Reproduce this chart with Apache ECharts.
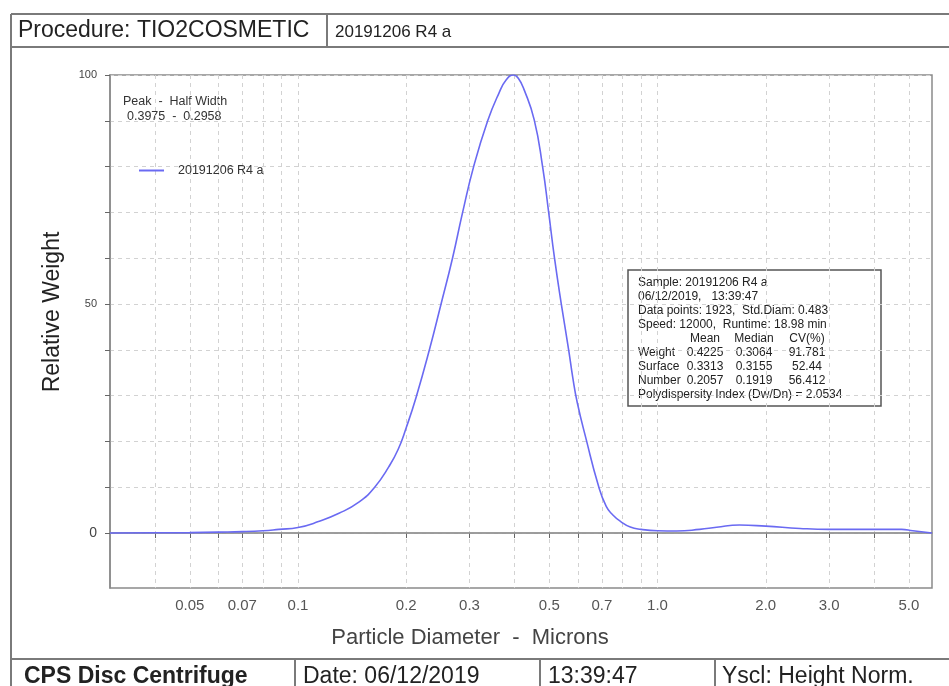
<!DOCTYPE html>
<html>
<head>
<meta charset="utf-8">
<title>CPS Disc Centrifuge - 20191206 R4 a</title>
<script src="https://cdn.jsdelivr.net/npm/echarts@6/dist/echarts.min.js"></script>
<style>
  html, body { margin: 0; padding: 0; background: #fff; }
  #chart { width: 949px; height: 686px; }
</style>
</head>
<body>
<div id="chart"></div>
<script>
// particle diameter (microns) vs relative weight
const diameters = [0.03, 0.04, 0.05, 0.06, 0.07, 0.08, 0.0885, 0.1, 0.114, 0.13, 0.148, 0.163, 0.179, 0.19, 0.2,
  0.213, 0.232, 0.25, 0.269, 0.287, 0.308, 0.337, 0.362, 0.38, 0.3975, 0.41, 0.426, 0.454, 0.479, 0.498, 0.517,
  0.54, 0.566, 0.581, 0.598, 0.633, 0.684, 0.72, 0.75, 0.79, 0.84, 0.9, 1.0, 1.13, 1.31, 1.46, 1.69, 2.0, 2.49,
  3.0, 4.0, 4.77, 5.13, 5.8]
const weights = [0, 0.05, 0.1, 0.2, 0.3, 0.5, 0.8, 1.2, 2.5, 4.3, 6.8, 9.9, 14.5, 18.3, 23,
  29.6, 40, 50, 60, 70, 80, 90, 96, 99, 100, 99.3, 96.7, 90.2, 80, 70, 60,
  50, 40, 34, 28.5, 20.5, 10.5, 5.8, 4.0, 2.5, 1.3, 0.8, 0.5, 0.45, 0.8, 1.25, 1.75, 1.5, 1.0,
  0.8, 0.8, 0.8, 0.5, 0]

const xTickValues = [0.04, 0.05, 0.06, 0.07, 0.08, 0.09, 0.1, 0.2, 0.3, 0.4, 0.5, 0.6, 0.7, 0.8, 0.9, 1, 2, 3, 4, 5]
const xLabelValues = [0.05, 0.07, 0.1, 0.2, 0.3, 0.5, 0.7, 1, 2, 3, 5]
const yTickValues = [0, 10, 20, 30, 40, 50, 60, 70, 80, 90, 100]
const yLabelValues = [0, 50, 100]

const sampleName = '20191206 R4 a'
const peakText = ['Peak  -  Half Width', '0.3975  -  0.2958']
const infoLines = [
  'Sample: 20191206 R4 a',
  '06/12/2019,   13:39:47',
  'Data points: 1923,  Std.Diam: 0.483',
  'Speed: 12000,  Runtime: 18.98 min'
]
const statHeaders = ['Mean', 'Median', 'CV(%)']
const statRows = [
  ['Weight', '0.4225', '0.3064', '91.781'],
  ['Surface', '0.3313', '0.3155', '52.44'],
  ['Number', '0.2057', '0.1919', '56.412']
]
const pdiText = 'Polydispersity Index (Dw/Dn) = 2.0534'
const footerCells = ['CPS Disc Centrifuge', 'Date: 06/12/2019', '13:39:47', 'Yscl: Height Norm.']

const FONT = '"Liberation Sans", Arial, sans-serif'
const FRAME = '#7a7a7a'

function frameLine(x1, y1, x2, y2) {
  return {
    type: 'line',
    shape: { x1: x1, y1: y1, x2: x2, y2: y2 },
    style: { stroke: FRAME, lineWidth: 2 },
    silent: true
  }
}

function txt(x, y, text, size, opts) {
  return {
    type: 'text',
    x: x,
    y: y,
    silent: true,
    style: Object.assign({
      text: text,
      font: (opts && opts.weight ? opts.weight + ' ' : '') + size + 'px ' + FONT,
      fill: '#222',
      textVerticalAlign: 'middle'
    }, opts && opts.style)
  }
}

// info box on the right
const BOX_FONT = 12
const infoElements = [{
  type: 'rect',
  shape: { x: 628, y: 270, width: 253, height: 136 },
  style: { fill: '#fff', stroke: '#555', lineWidth: 1.5 },
  silent: true
}]
infoLines.forEach((line, i) => {
  infoElements.push(txt(638, 283 + i * 14, line, BOX_FONT))
})
const colX = [705, 754, 807]
statHeaders.forEach((h, i) => {
  infoElements.push(txt(colX[i], 339, h, BOX_FONT, { style: { textAlign: 'center' } }))
})
statRows.forEach((row, r) => {
  infoElements.push(txt(638, 353 + r * 14, row[0], BOX_FONT))
  for (let c = 1; c < row.length; c++) {
    infoElements.push(txt(colX[c - 1], 353 + r * 14, row[c], BOX_FONT, { style: { textAlign: 'center' } }))
  }
})
infoElements.push(txt(638, 395, pdiText, BOX_FONT))

const footerX = [24, 303, 548, 722]

const chart = echarts.init(document.getElementById('chart'))
chart.setOption({
  animation: false,
  textStyle: { fontFamily: FONT },
  grid: {
    left: 110,
    top: 75,
    right: 17,
    bottom: 98,
    show: true,
    borderColor: '#8a8a8a',
    borderWidth: 1.5
  },
  legend: {
    left: 134,
    top: 159,
    itemWidth: 25,
    itemHeight: 2,
    icon: 'rect',
    data: [sampleName],
    textStyle: { fontSize: 12.5, color: '#333', padding: [0, 0, 0, 9] }
  },
  xAxis: {
    type: 'log',
    logBase: 10,
    min: 0.03,
    max: 5.8,
    name: 'Particle Diameter  -  Microns',
    nameLocation: 'middle',
    nameGap: 39,
    nameTextStyle: { fontSize: 22, color: '#444', padding: [0, 102, 0, 0] },
    axisLine: { show: true, lineStyle: { color: '#8a8a8a', width: 1.5 } },
    axisTick: { show: true, length: 5, customValues: xTickValues, lineStyle: { color: '#666' } },
    axisLabel: {
      customValues: xLabelValues,
      margin: 10,
      fontSize: 15,
      color: '#555',
      formatter: v => (v >= 1 ? v.toFixed(1) : String(v))
    },
    splitLine: { show: true, lineStyle: { color: '#d2d2d2', type: [4, 4], width: 1 } },
    minorTick: { show: false }
  },
  yAxis: {
    type: 'value',
    min: -12,
    max: 100,
    name: 'Relative Weight',
    nameLocation: 'middle',
    nameGap: 46,
    nameTextStyle: { fontSize: 23, color: '#222', padding: [0, 0, 0, 39] },
    axisLine: { show: true, lineStyle: { color: '#8a8a8a', width: 1.5 } },
    axisTick: { show: true, length: 5, customValues: yTickValues, lineStyle: { color: '#666' } },
    axisLabel: {
      customValues: yLabelValues,
      margin: 13,
      color: '#444',
      formatter: v => (v === 0 ? '{zero|0}' : '{small|' + v + '}'),
      rich: {
        zero: { fontSize: 14, color: '#444' },
        small: { fontSize: 11, color: '#444' }
      }
    },
    splitLine: { show: true, lineStyle: { color: '#d2d2d2', type: [4, 4], width: 1 } }
  },
  series: [{
    name: sampleName,
    type: 'line',
    data: diameters.map((d, i) => [d, weights[i]]),
    showSymbol: false,
    symbol: 'none',
    smooth: 0.5,
    lineStyle: { color: '#6a6af2', width: 1.6 },
    itemStyle: { color: '#6a6af2' },
    markLine: {
      silent: true,
      symbol: 'none',
      label: { show: false },
      lineStyle: { color: '#9a9a9a', type: 'solid', width: 1.5 },
      data: [{ yAxis: 0 }],
      z: 1
    },
    z: 3
  }],
  graphic: [
    // header row
    frameLine(11, 14, 949, 14),
    frameLine(11, 47, 949, 47),
    frameLine(327, 14, 327, 47),
    frameLine(11, 14, 11, 686),
    txt(18, 31, 'Procedure: TIO2COSMETIC', 23),
    txt(335, 32, sampleName, 17),
    // peak / half width note
    txt(123, 102, peakText[0], 12.5, { style: { fill: '#333' } }),
    txt(127, 117, peakText[1], 12.5, { style: { fill: '#333' } }),
    // footer row
    frameLine(11, 659, 949, 659),
    frameLine(295, 659, 295, 686),
    frameLine(540, 659, 540, 686),
    frameLine(715, 659, 715, 686),
    txt(footerX[0], 677, footerCells[0], 23, { weight: 'bold' }),
    txt(footerX[1], 677, footerCells[1], 23),
    txt(footerX[2], 677, footerCells[2], 23),
    txt(footerX[3], 677, footerCells[3], 23)
  ].concat(infoElements)
})
</script>
</body>
</html>
